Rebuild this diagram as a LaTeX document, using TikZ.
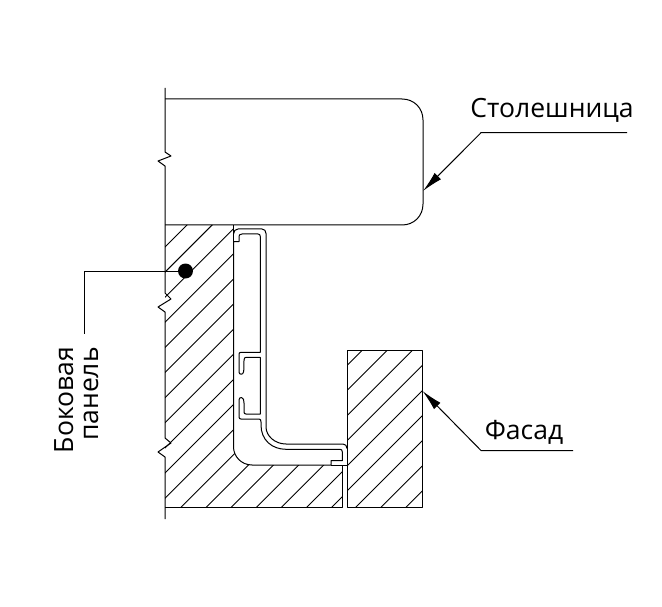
\documentclass[tikz,border=0pt]{standalone}
\usepackage{fontspec}
\setmainfont{Open Sans}
\usetikzlibrary{arrows.meta, calc}
\tikzset{
  contour/.style={line width=1pt, line join=round},
  hatch/.style={line width=0.9pt},
  leader/.style={line width=1pt},
  pointer/.style={leader, {Latex[length=21pt,width=9pt]}-},
  caption/.style={font=\fontsize{26.5}{25}\selectfont, inner sep=0pt},
}
\begin{document}
\begin{tikzpicture}[x=1pt,y=-1pt]
  \useasboundingbox (0,0) rectangle (662,607);
  % side panel hatching
  \begin{scope}
    \clip (165,225) -- (233.5,225) -- (233.5,447) .. controls (233.5,456) and (241,465) .. (252,465) -- (342,465) -- (342,507) -- (165,507) -- cycle;
    \foreach \k in {0,...,17}{
      \draw[hatch] ({412+\k*25.12},0) -- (0,{412+\k*25.12});
    }
  \end{scope}
  % front hatching
  \begin{scope}
    \clip (347,350) rectangle (422.5,507);
    \foreach \k in {0,...,8}{
      \draw[hatch] ({712.5+\k*25.1},0) -- (0,{712.5+\k*25.1});
    }
  \end{scope}
  % break line
  \draw[contour] (165,88) -- (165,152) -- (171,156) -- (158,161) -- (165,166) -- (165,293) -- (171,299) -- (158,307) -- (165,312) -- (165,438) -- (171,443) -- (158,452) -- (165,457) -- (165,519);
  % worktop
  \draw[contour] (165,99) -- (402,99) .. controls (414,99) and (423,108) .. (423,120) -- (423,204) .. controls (423,216) and (414,225) .. (402,225) -- (165,225);
  % panel and front outlines
  \draw[contour] (233.5,225) -- (233.5,241.7);
  \draw[contour] (165,507) -- (342,507) -- (342,465);
  \draw[contour] (347,507) -- (347,350) -- (422.5,350) -- (422.5,507) -- cycle;
  % profile
  \draw[contour] (233.5,241.7) -- (239,241.7) -- (239,236.5) .. controls (239,235) and (240,234) .. (242,234) -- (258,234) .. controls (259.5,234) and (260.3,235) .. (260.3,236.5) -- (260.3,352.3) -- (241,352.3) .. controls (239.5,352.3) and (239,353) .. (239,354.5) -- (239,372) .. controls (239,375) and (243,375) .. (243.5,372) .. controls (244,370) and (244,365) .. (244,360) .. controls (244,358) and (245,357.4) .. (246,357.4) -- (260.3,357.4) -- (260.3,414) -- (246,414) .. controls (244.7,414) and (244,413.3) .. (244,412) -- (244,403) .. controls (244,400) and (243.5,398) .. (241.5,397.5) .. controls (240,397.3) and (239,398.5) .. (239,400) -- (239,417) .. controls (239,418.3) and (239.8,419) .. (241,419) -- (259,419) .. controls (260.5,419) and (261,420) .. (261,422) -- (261,425) .. controls (261,440) and (272,449.3) .. (286,449.3) -- (340,449.3) .. controls (341.5,449.3) and (342.3,450) .. (342.3,452) -- (342.3,460.7) -- (331,460.7) -- (331,465) -- (252,465) .. controls (241,465) and (233.5,456) .. (233.5,447) -- cycle;
  \draw[contour] (331,465) -- (347,465);
  \draw[contour] (233.5,234) .. controls (233.5,231) and (235.5,229) .. (238,229) -- (262,229) .. controls (264.5,229) and (266,231) .. (266,233.5) -- (266,427) .. controls (266,436) and (275,444) .. (286,444) -- (343,444) .. controls (345.5,444) and (347,446) .. (347,448.5);
  % leaders
  \coordinate (topAnchor) at (423,191);
  \coordinate (topBend) at (481,132.7);
  \coordinate (topEnd) at (627,132.7);
  \coordinate (frontAnchor) at (422.5,391);
  \coordinate (frontBend) at (481,450.5);
  \coordinate (frontEnd) at (573,450.5);
  \coordinate (sideBend) at (84,271);
  \coordinate (sideEnd) at (84,334);
  \node[circle, fill=black, inner sep=0pt, minimum size=15pt] (sideDot) at (185.5,271) {};
  \draw[pointer] (topAnchor) -- (topBend) -- (topEnd);
  \draw[pointer] (frontAnchor) -- (frontBend) -- (frontEnd);
  \draw[leader] (sideDot.center) -- (sideBend) -- (sideEnd);
  % labels
  \node[caption, anchor=base] (topLabel) at (552,118) {Столешница};
  \node[caption, anchor=base] (frontLabel) at (524,439) {Фасад};
  \node[caption, align=right, rotate=90, anchor=north east] (sideLabel) at (54,347) {Боковая\\панель};
\end{tikzpicture}
\end{document}
